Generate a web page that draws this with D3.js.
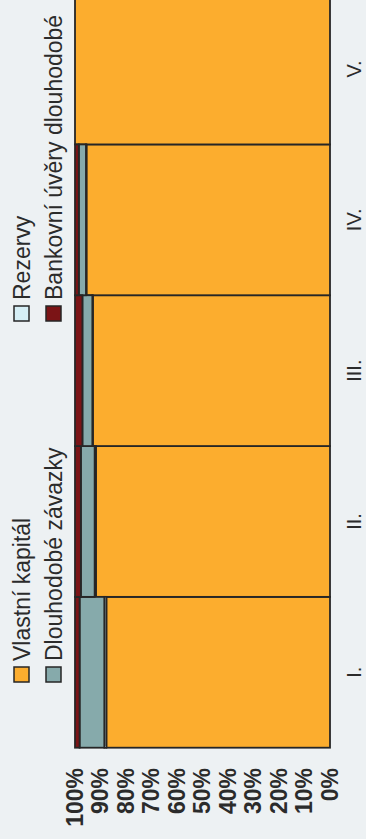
<!DOCTYPE html>
<html>
<head>
<meta charset="utf-8">
<script src="https://cdn.jsdelivr.net/npm/d3@7"></script>
<style>
  html, body { margin: 0; padding: 0; background: #edf1f3; }
  svg { display: block; }
  text { font-family: "Liberation Sans", Arial, sans-serif; fill: #2b2b2b; }
</style>
</head>
<body>
<svg id="chart" width="366" height="839"></svg>
<script>
// Category labels (periods) and series shares in percent
const categories = ["I.", "II.", "III.", "IV.", "V."];
const seriesNames = ["Vlastní kapitál", "Rezervy", "Dlouhodobé závazky", "Bankovní úvěry dlouhodobé"];
const vlastniKapital   = [87.7, 91.8, 93.0, 95.5, 100];
const rezervy          = [0.8, 0.5, 0.2, 0.2, 0];
const dlouhodobeZavazky = [9.7, 5.4, 3.9, 2.8, 0];
const bankovniUvery    = [1.8, 2.3, 2.9, 1.5, 0];
const tickValues = [0, 0.1, 0.2, 0.3, 0.4, 0.5, 0.6, 0.7, 0.8, 0.9, 1];

const colors = ["#fcad2e", "#d5eef5", "#86aaab", "#7b1416"];
const strokeColor = "#262626";

// Chart is laid out in a landscape frame (839 x 366) and turned a quarter
// turn counter-clockwise onto the portrait page.
const W = 839, H = 366;
const svg = d3.select("#chart");
const g = svg.append("g").attr("transform", `translate(0,${W}) rotate(-90)`);

const rows = categories.map((c, i) => ({
  cat: c,
  [seriesNames[0]]: vlastniKapital[i],
  [seriesNames[1]]: rezervy[i],
  [seriesNames[2]]: dlouhodobeZavazky[i],
  [seriesNames[3]]: bankovniUvery[i]
}));

const stacked = d3.stack().keys(seriesNames).offset(d3.stackOffsetExpand)(rows);

const x = d3.scaleBand().domain(categories).range([91.3, 845.4]).padding(0);
const y = d3.scaleLinear().domain([0, 1]).range([330, 75]);

// Stacked columns
g.append("g").selectAll("g")
  .data(stacked)
  .join("g")
  .attr("fill", (d, i) => colors[i])
  .selectAll("rect")
  .data(d => d.filter(p => p[1] - p[0] > 0))
  .join("rect")
  .attr("x", d => x(d.data.cat))
  .attr("width", x.bandwidth())
  .attr("y", d => y(d[1]))
  .attr("height", d => y(d[0]) - y(d[1]))
  .attr("stroke", strokeColor)
  .attr("stroke-width", 1.8);

// Value axis
const yAxis = g.append("g")
  .attr("transform", "translate(71,0)")
  .call(d3.axisLeft(y).tickValues(tickValues).tickFormat(d3.format(".0%")).tickSize(0).tickPadding(0));
yAxis.select(".domain").remove();
yAxis.selectAll("text")
  .attr("font-size", 23)
  .attr("font-weight", "bold")
  .attr("font-family", "'Liberation Sans', Arial, sans-serif")
  .attr("fill", "#2b2b2b");

// Category axis
const xAxis = g.append("g")
  .attr("transform", "translate(0,361)")
  .call(d3.axisBottom(x).tickSize(0).tickPadding(0));
xAxis.select(".domain").remove();
xAxis.selectAll("text")
  .attr("dy", 0)
  .attr("font-size", 20)
  .attr("font-family", "'Liberation Sans', Arial, sans-serif")
  .attr("fill", "#2b2b2b");

// Legend (two columns, two rows)
const legendPos = [
  { x: 157, y: 14 }, { x: 518, y: 14 },
  { x: 157, y: 46 }, { x: 518, y: 46 }
];
const legendOrder = [0, 1, 2, 3];
const leg = g.append("g").selectAll("g")
  .data(legendOrder)
  .join("g")
  .attr("transform", (d, i) => `translate(${legendPos[i].x},${legendPos[i].y})`);
leg.append("rect")
  .attr("width", 15).attr("height", 15)
  .attr("fill", d => colors[d])
  .attr("stroke", strokeColor)
  .attr("stroke-width", 1.5);
leg.append("text")
  .attr("x", 21).attr("y", 16)
  .attr("font-size", 23)
  .text(d => seriesNames[d]);
</script>
</body>
</html>
